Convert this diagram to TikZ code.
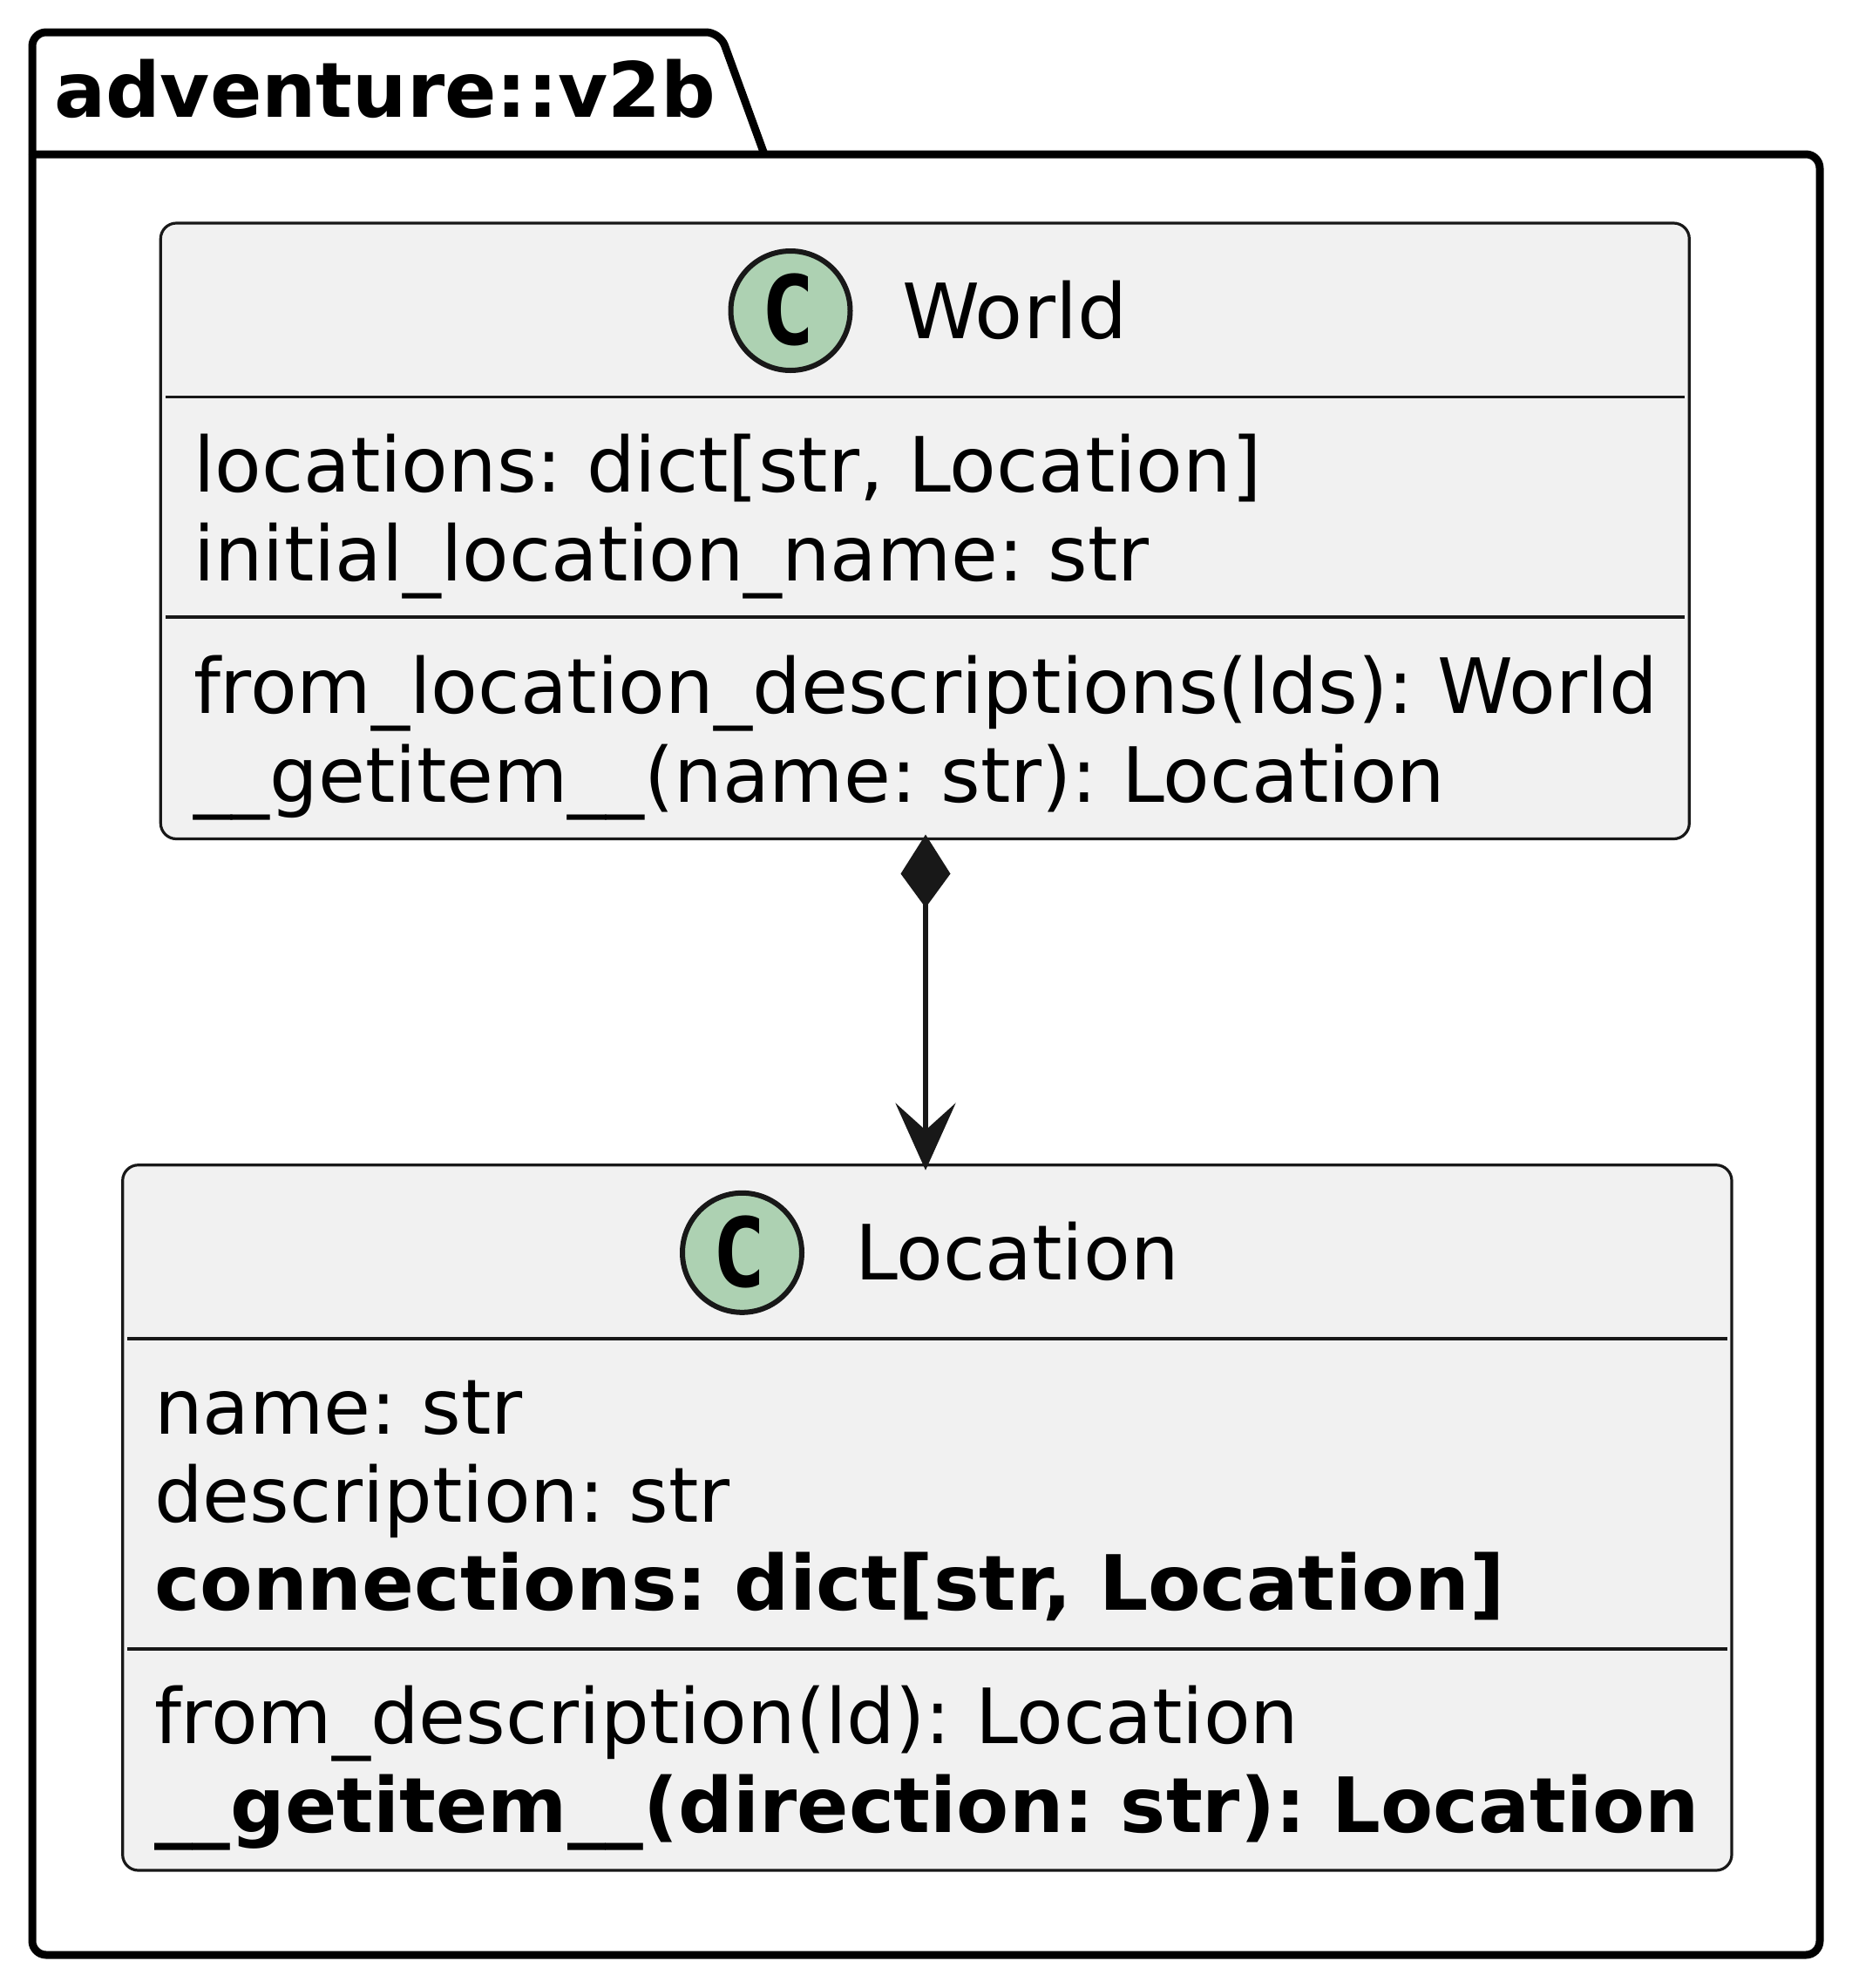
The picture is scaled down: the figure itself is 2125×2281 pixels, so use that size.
\documentclass[tikz,border=0pt]{standalone}
\usepackage{fontspec}
\usepackage{graphicx}
\setmainfont{DejaVu Sans}
\newfontfamily\monofam{DejaVu Sans Mono}
\usetikzlibrary{arrows.meta,calc}
\definecolor{boxfill}{HTML}{F1F1F1}
\definecolor{inkline}{HTML}{181818}
\definecolor{spotfill}{HTML}{ADD1B2}
\newcommand{\hstretch}[2]{\scalebox{#1}[1]{#2}}
\tikzset{
  x=1pt,y=-1pt,
  pkgline/.style={draw=black,line width=9pt,line join=round,rounded corners=16pt},
  classbox/.style={draw=inkline,fill=boxfill,line width=3.2pt,rounded corners=18pt,inner sep=0pt,outer sep=0pt,anchor=north west},
  divider/.style={draw=inkline,line width=3.2pt},
  spot/.style={circle,draw=inkline,fill=spotfill,line width=6pt,minimum size=137pt,inner sep=0pt,outer sep=0pt},
  spotletter/.style={inner sep=0pt,outer sep=0pt,font=\monofam\bfseries\fontsize{110}{110}\selectfont,text=black},
  member/.style={anchor=base west,inner sep=0pt,outer sep=0pt,font=\frenchspacing\fontsize{87.5}{100}\selectfont,text=black},
  strongmember/.style={member,font=\frenchspacing\bfseries\fontsize{87.5}{100}\selectfont},
  relation/.style={draw=inkline,line width=6pt,{Kite[length=84pt,width=57pt,inset=39pt,sep=0pt]}-{Stealth[length=77pt,width=69pt,inset=31pt]},shorten <=-5pt,shorten >=-6pt}
}
\begin{document}
\begin{tikzpicture}
\useasboundingbox (0,0) rectangle (2125,2281);
% package
\draw[pkgline] (37,177) -- (37,37) -- (826,37) -- (877,177);
\draw[pkgline] (37,177) -- (2088,177) -- (2088,2243) -- (37,2243) -- (37,177);
\node[strongmember] (pkg) at (62,134) {\hstretch{1.002}{adventure::v2b}};
% World
\node[classbox,minimum width=1754pt,minimum height=706.5pt] (world) at (184.3,256) {};
\node[spot] (wspot) at (907,356.5) {};
\node[spotletter] (wc) at (904,355.5) {\hstretch{0.93}{C}};
\node[member] (wname) at (1035,388) {\hstretch{1.03}{World}};
\draw[divider] (190,455.5) -- (1933,455.5);
\node[member] (w1) at (222,564) {\hstretch{1.0024}{locations: dict[str, Location]}};
\node[member] (w2) at (222,666) {initial\_location\_name: str};
\draw[divider] (190,708) -- (1933,708);
\node[member] (w3) at (222,818) {\hstretch{1.0044}{from\_location\_descriptions(lds): World}};
\node[member] (w4) at (222,920) {\hstretch{1.002}{\_\_getitem\_\_(name: str): Location}};
% Location
\node[classbox,minimum width=1846.3pt,minimum height=809.3pt] (loc) at (140.7,1336.7) {};
\node[spot] (lspot) at (851.5,1437.3) {};
\node[spotletter] (lc) at (848,1436) {\hstretch{0.93}{C}};
\node[member] (lname) at (981,1468) {\hstretch{1.004}{Location}};
\draw[divider] (146,1536) -- (1982,1536);
\node[member] (l1) at (177,1645) {\hstretch{1.003}{name: str}};
\node[member] (l2) at (177,1746) {\hstretch{1.002}{description: str}};
\node[strongmember] (l3) at (177,1847) {\hstretch{1.0095}{connections: dict[str, Location]}};
\draw[divider] (146,1892) -- (1982,1892);
\node[member] (l4) at (177,2000) {\hstretch{1.003}{from\_description(ld): Location}};
\node[strongmember] (l5) at (177,2102) {\hstretch{1.001}{\_\_getitem\_\_(direction: str): Location}};
% relation
\coordinate (relx) at (1062,0);
\draw[relation] (relx |- world.south) -- (relx |- loc.north);
\end{tikzpicture}
\end{document}
